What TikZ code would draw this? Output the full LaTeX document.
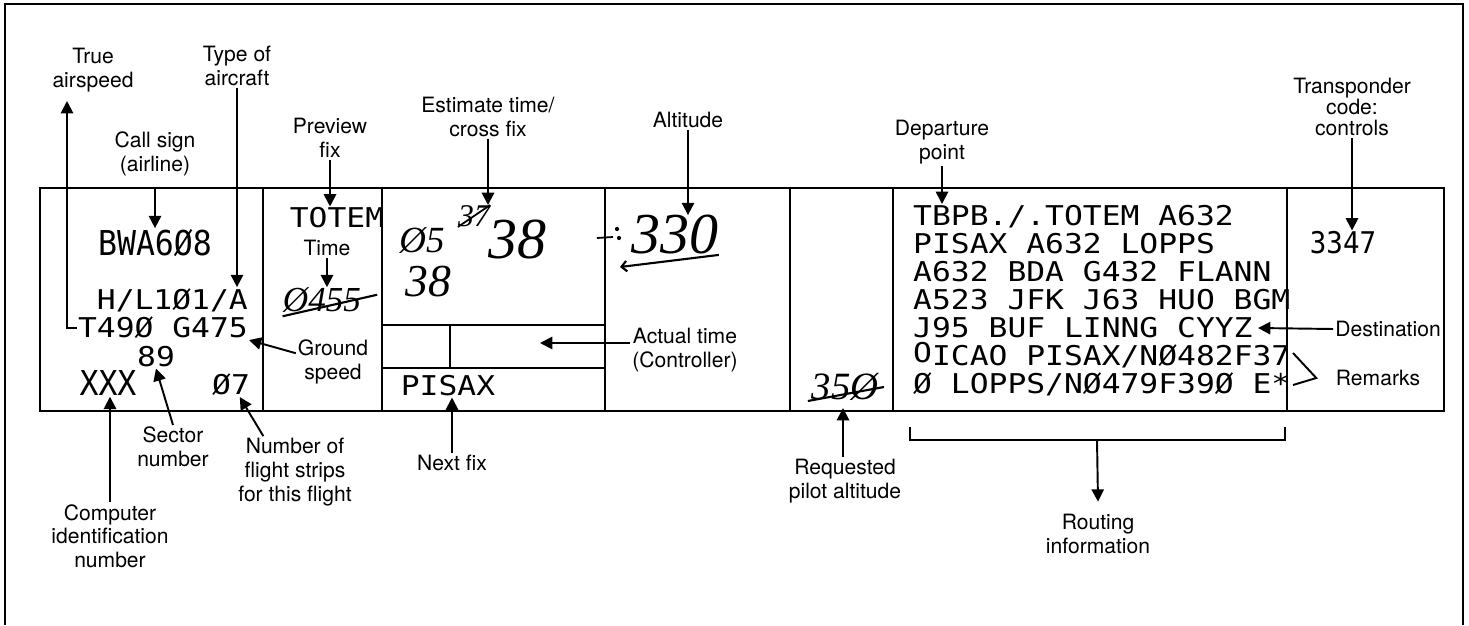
\documentclass[tikz,border=0pt]{standalone}
\usepackage{fontspec}
\setmainfont{TeX Gyre Heros}
\newfontfamily\stripface[FakeStretch=1.15]{DejaVu Sans Mono}
\newfontfamily\bigface[FakeStretch=0.92]{DejaVu Sans Mono}
\newfontfamily\handface{Liberation Serif}
\usetikzlibrary{arrows.meta}

\begin{document}
\begin{tikzpicture}[x=0.02cm, y=-0.02cm]
    \tikzstyle{lbl} = [font=\fontsize{12}{13.5}\selectfont, align=center, inner sep=1pt]
    \tikzstyle{striptxt} = [font=\stripface\fontsize{15.5}{15.9}\selectfont, inner sep=0.5pt]
    \tikzstyle{stripbig} = [font=\bigface\fontsize{19.5}{20}\selectfont, inner sep=0.5pt]
    \tikzstyle{handtxt} = [font=\handface\itshape, inner sep=0pt]
    \tikzstyle{arrow} = [line width=1.1pt, -{Triangle[length=7pt,width=7pt]}]
    \tikzstyle{cell} = [line width=0.9pt]

    \useasboundingbox (0,0) rectangle (1469,625);
    % frame, open at the bottom
    \draw[line width=1.1pt] (5,625) -- (5,4) -- (1463,4) -- (1463,625);

    % the strip and its cells
    \draw[line width=1.6pt] (40,188) rectangle (1444,411);
    \draw[cell] (263,188) -- (263,411) (382,188) -- (382,411) (605,188) -- (605,411)
        (790,188) -- (790,411) (893,188) -- (893,411) (1287,188) -- (1287,411);
    \draw[cell] (382,325) -- (605,325) (382,368) -- (605,368) (450,325) -- (450,368);

    % printed entries
    \node[stripbig] (bwa) at (155,243) {BWA6Ø8};
    \node[striptxt, anchor=east] (hl) at (249,300) {H/L1Ø1/A};
    \node[striptxt, anchor=east] (tgs) at (249,328) {T49Ø G475};
    \node[striptxt] (sect) at (156,357) {89};
    \node[stripbig] (cid) at (108,383) {XXX};
    \node[striptxt] (nstr) at (231,385) {Ø7};
    \node[striptxt] (totem) at (337,218) {TOTEM};
    \node[striptxt] (pisax) at (448,386) {PISAX};
    \node[stripbig, font=\bigface\fontsize{17}{18}\selectfont] (sq) at (1343,243) {3347};
    \node[striptxt, anchor=north west, align=left] (route) at (912,204)
        {TBPB./.TOTEM A632\\PISAX A632 LOPPS\\A632 BDA G432 FLANN\\A523 JFK J63 HUO BGM\\
         J95 BUF LINNG CYYZ\\\raisebox{1.5pt}{O}ICAO PISAX/NØ482F37\\Ø LOPPS/NØ479F39Ø E*};

    % handwritten entries
    \node[handtxt] (ptime) at (322,300) {\fontsize{20}{20}\selectfont Ø455};
    \node[handtxt] (e05) at (422,240) {\fontsize{21}{21}\selectfont Ø5};
    \node[handtxt] (e37) at (474,216) {\fontsize{18}{18}\selectfont 37};
    \node[handtxt] (e38) at (517,240) {\fontsize{33}{33}\selectfont 38};
    \node[handtxt] (e38b) at (428,282) {\fontsize{26}{26}\selectfont 38};
    \node[handtxt] (alt) at (675,235) {\fontsize{33}{33}\selectfont 330};
    \node[handtxt] (reqv) at (845,387) {\fontsize{22}{22}\selectfont 35Ø};
    \draw[line width=1.2pt] ([yshift=-2pt]ptime.south west) -- ([xshift=9pt,yshift=3pt]ptime.east);
    \draw[line width=1pt] (e37.south west) -- (e37.north east);
    \draw[line width=1.2pt] ([xshift=-2pt]reqv.south west) -- ([xshift=3pt]reqv.east);
    \draw[line width=1pt] (597,238) -- (613,237);
    \fill (617,229) circle (1.2pt) (619,238) circle (1.2pt);
    \draw[line width=1.2pt, -{Straight Barb[length=3pt]}] (alt.south east) -- (620,267);

    % labels
    \node[lbl] (tas) at (93,70) {True\\airspeed};
    \node[lbl] (tac) at (237,66) {Type of\\aircraft};
    \node[lbl] (csl) at (155,154) {Call sign\\(airline)};
    \node[lbl] (pfx) at (330,138) {Preview\\fix};
    \node[lbl] (etl) at (488,117) {Estimate time/\\cross fix};
    \node[lbl] (all) at (688,120) {Altitude};
    \node[lbl] (dpl) at (942,142) {Departure\\point};
    \node[lbl, font=\fontsize{12}{12}\selectfont] (xcl) at (1352,107) {Transponder\\code:\\controls};
    \node[lbl] (tml) at (327,248) {Time};
    \node[lbl] (gsl) at (333,362) {Ground\\speed};
    \node[lbl] (atl) at (685,350) {Actual time\\(Controller)};
    \node[lbl] (dsl) at (1388,329) {Destination};
    \node[lbl] (rml) at (1378,378) {Remarks};
    \node[lbl] (scl) at (173,447) {Sector\\number};
    \node[lbl] (nsl) at (295,472) {Number of\\flight strips\\for this flight};
    \node[lbl] (cil) at (110,536) {Computer\\identification\\number};
    \node[lbl] (nfl) at (452,463) {Next fix};
    \node[lbl] (rql) at (845,481) {Requested\\pilot altitude};
    \node[lbl] (rtl) at (1098,534) {Routing\\information};

    \coordinate (tastip) at (67,101);
    \coordinate (attip) at (540,343);
    \coordinate (dtip) at (1258,328);
    \coordinate (rqtip) at (843,408);
    \coordinate (rmtop) at (1293,353);
    \coordinate (rmbot) at (1293,385);
    \coordinate (brk) at (1097,440);

    % pointers
    \draw[arrow] (tgs.west) -| (tastip);
    \draw[arrow] (tac.south) -- (tac.south |- hl.north);
    \draw[arrow] ([yshift=-6pt]csl.south) -- (csl.south |- bwa.north);
    \draw[arrow] (pfx.south) -- (pfx.south |- totem.north);
    \draw[arrow] (tml.south) -- (tml.south |- ptime.north);
    \draw[arrow] (etl.south) -- (etl.south |- e37.north);
    \draw[arrow] (all.south) -- (all.south |- alt.north);
    \draw[arrow] (dpl.south) -- (dpl.south |- route.north);
    \draw[arrow] (xcl.south) -- (xcl.south |- sq.north);
    \draw[arrow] ([yshift=5pt]gsl.west) -- (tgs.south east);
    \draw[arrow] (atl.west |- attip) -- (attip);
    \draw[arrow] (dsl.west) -- (dtip);
    \draw[line width=1.1pt] (rmtop) -- ([xshift=-10pt]rml.west) -- (rmbot);
    \draw[arrow] (scl.north) -- (sect.south);
    \draw[arrow] ([xshift=-18pt]nsl.north) -- ([xshift=5pt]nstr.south);
    \draw[arrow] (cil.north) -- (cil.north |- cid.south);
    \draw[arrow] (nfl.north) -- (nfl.north |- pisax.south);
    \draw[arrow] (rql.north -| rqtip) -- (rqtip);
    \draw[line width=1.1pt] (910,427) |- (brk) -| (1285,427);
    \draw[arrow] (brk) -- ([yshift=6pt]rtl.north);
\end{tikzpicture}
\end{document}
